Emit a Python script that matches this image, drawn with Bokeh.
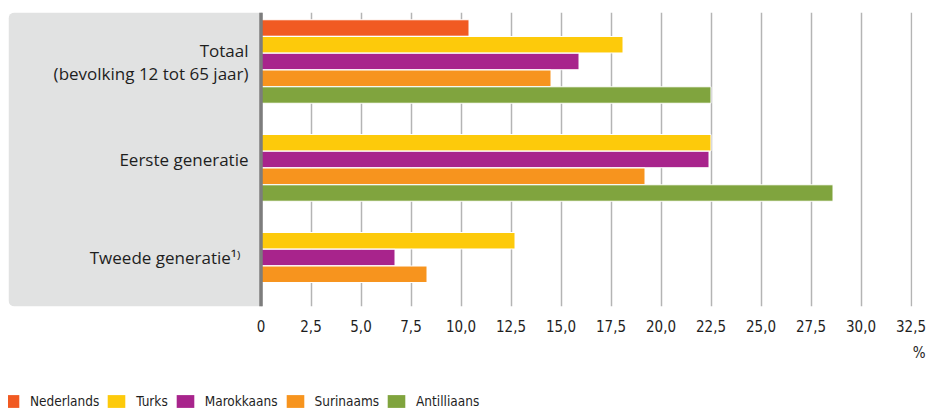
from bokeh.plotting import figure
from bokeh.layouts import column
from bokeh.models import (ColumnDataSource, Range1d, FixedTicker, Span, Legend,
                          LegendItem, Title)
from bokeh.core.properties import value
from bokeh.embed import file_html
from bokeh.resources import INLINE

# ---- data ----
groups = ["Totaal\n(bevolking 12 tot 65 jaar)", "Eerste generatie", "Tweede generatie\u00b9\u207e"]
series = ["Nederlands", "Turks", "Marokkaans", "Surinaams", "Antilliaans"]
nederlands = [10.4, None, None]
turks = [18.1, 22.5, 12.7]
marokkaans = [15.9, 22.4, 6.7]
surinaams = [14.5, 19.2, 8.3]
antilliaans = [22.5, 28.6, None]
values = [nederlands, turks, marokkaans, surinaams, antilliaans]
colors = ["#f15a22", "#fdca0b", "#a8248c", "#f7941e", "#80a43e"]
ticks = [0, 2.5, 5, 7.5, 10, 12.5, 15, 17.5, 20, 22.5, 25, 27.5, 30, 32.5]
tick_labels = ["0", "2,5", "5,0", "7,5", "10,0", "12,5", "15,0", "17,5", "20,0",
               "22,5", "25,0", "27,5", "30,0", "32,5"]

FONT = "Open Sans"
NARROW = "'DejaVu Sans Condensed', sans-serif"
TXT = "#1e1e1e"

p = figure(width=930, height=382, x_range=Range1d(-12.625, 32.575), y_range=Range1d(3, 0),
           output_backend="svg", toolbar_location=None,
           min_border_left=8, min_border_right=18, min_border_top=12, min_border_bottom=76)
p.outline_line_color = None
p.yaxis.visible = False
p.ygrid.visible = False

ax = p.xaxis[0]
ax.ticker = FixedTicker(ticks=ticks)
ax.major_label_overrides = {t: l for t, l in zip(ticks, tick_labels)}
ax.axis_line_color = None
ax.major_tick_line_color = None
ax.minor_tick_line_color = None
ax.major_label_standoff = 7
ax.major_label_text_font = NARROW
ax.major_label_text_font_size = "15px"
ax.major_label_text_color = TXT
p.xgrid.grid_line_color = "#b4b4b4"
p.xgrid.grid_line_width = 1.5

# grey label panel
p.quad(left=-12.625, right=0, top=0, bottom=3, fill_color="#e1e2e2", line_color=None,
       border_radius=(6, 0, 0, 6))

# bars
pitch = 0.171
bar_h = 0.168
for j, (name, vals, col) in enumerate(zip(series, values, colors)):
    ys, xs = [], []
    for i, v in enumerate(vals):
        if v is not None:
            ys.append(i + 0.5 + (j - 2) * pitch)
            xs.append(v)
    src = ColumnDataSource(dict(y=ys, right=xs))
    p.hbar(y="y", left=0, right="right", height=bar_h, source=src,
           fill_color=col, line_color="white", line_width=1)

# zero axis line
p.add_layout(Span(location=0, dimension="height", line_color="#7d7d7d", line_width=3.5))

# category labels inside grey panel
label_shift = [0, 0, -8]
lsrc = ColumnDataSource(dict(x=[-0.625] * 3, y=[i + 0.5 for i in range(3)],
                             text=groups, xo=label_shift))
p.text(x="x", y="y", text="text", x_offset="xo", source=lsrc, text_align="right",
       text_baseline="middle", text_font=value(FONT), text_font_size="17px",
       text_color=TXT, text_line_height=1.0)

# unit label
p.add_layout(Title(text="%", align="right", text_font=NARROW, text_font_size="15px",
                   text_font_style="normal", text_color=TXT, standoff=14, offset=-13),
             "below")

# legend strip
lg = figure(width=930, height=27, x_range=Range1d(0, 1), y_range=Range1d(0, 1),
            output_backend="svg", toolbar_location=None,
            min_border_left=0, min_border_right=0, min_border_top=0, min_border_bottom=0)
lg.outline_line_color = None
lg.axis.visible = False
lg.grid.visible = False
items = []
for name, col in zip(series, colors):
    r = lg.hbar(y=[-10], left=[0], right=[1], height=1, fill_color=col, line_color=None)
    items.append(LegendItem(label=name, renderers=[r]))
legend = Legend(items=items, orientation="horizontal", location=(-9, 0),
                glyph_width=22, glyph_height=16, label_standoff=9, spacing=6,
                padding=0, margin=0, border_line_color=None, background_fill_alpha=0,
                label_text_font=NARROW, label_text_font_size="13.5px",
                label_text_color=TXT, label_height=16)
lg.add_layout(legend)

open("out.html", "w").write(file_html(column(p, lg, spacing=0), INLINE))
